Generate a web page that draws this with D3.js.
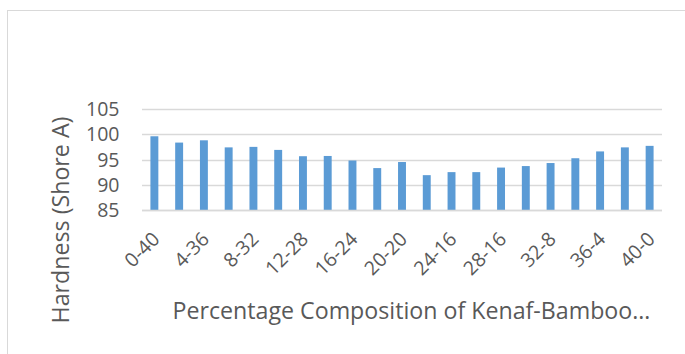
<!DOCTYPE html>
<html>
<head>
<meta charset="utf-8">
<script src="https://cdn.jsdelivr.net/npm/d3@7"></script>
<style>
  html, body { margin: 0; padding: 0; background: #fff; }
  svg { display: block; }
  text { font-family: "Open Sans", "Liberation Sans", sans-serif; fill: #595959; }
</style>
</head>
<body>
<svg id="chart" width="685" height="354"></svg>
<script>
// Kenaf-bamboo composition (%) and measured hardness
const categories = ["0-40", "2-38", "4-36", "6-34", "8-32", "10-30", "12-28", "14-26", "16-24", "18-22",
  "20-20", "22-18", "24-16", "26-14", "28-16", "30-10", "32-8", "34-6", "36-4", "38-2", "40-0"];
const hardness = [99.6, 98.35, 98.8, 97.4, 97.5, 96.9, 95.65, 95.7, 94.8, 93.3,
  94.5, 91.9, 92.5, 92.5, 93.4, 93.7, 94.3, 95.25, 96.6, 97.4, 97.7];
const yTicks = [85, 90, 95, 100, 105];
const yTitle = "Hardness (Shore A)";
const xTitle = "Percentage Composition of Kenaf-Bamboo…";

const svg = d3.select("#chart");
const gray = "#d9d9d9";

// outer chart frame
svg.append("rect")
  .attr("x", 7.5).attr("y", 10.5)
  .attr("width", 700).attr("height", 400)
  .attr("fill", "#fff").attr("stroke", gray).attr("stroke-width", 1);

const plot = { left: 142, right: 662, top: 109, bottom: 210 };

const x = d3.scaleBand()
  .domain(categories)
  .range([plot.left, plot.right])
  .paddingInner(0.68)
  .paddingOuter(0.34);

const y = d3.scaleLinear()
  .domain([85, 105])
  .range([plot.bottom, plot.top]);

// horizontal gridlines
svg.append("g")
  .selectAll("line")
  .data(yTicks)
  .join("line")
  .attr("x1", plot.left).attr("x2", plot.right)
  .attr("y1", d => Math.round(y(d)) + 0.5).attr("y2", d => Math.round(y(d)) + 0.5)
  .attr("stroke", gray).attr("stroke-width", 1.3);

// y tick labels
svg.append("g")
  .selectAll("text")
  .data(yTicks)
  .join("text")
  .attr("x", 119.5)
  .attr("y", d => y(d))
  .attr("dy", "0.36em")
  .attr("text-anchor", "end")
  .attr("font-size", 19.5)
  .text(d => d);

// bars
svg.append("g")
  .selectAll("rect")
  .data(categories)
  .join("rect")
  .attr("x", d => x(d))
  .attr("width", x.bandwidth())
  .attr("y", (d, i) => y(hardness[i]))
  .attr("height", (d, i) => y(85) - y(hardness[i]))
  .attr("fill", "#5b9bd5");

// redraw baseline over bar bottoms
svg.append("line")
  .attr("x1", plot.left).attr("x2", plot.right)
  .attr("y1", Math.round(y(85)) + 0.5).attr("y2", Math.round(y(85)) + 0.5)
  .attr("stroke", gray).attr("stroke-width", 1.3);

// category labels, every other one
svg.append("g")
  .selectAll("text")
  .data(categories.filter((d, i) => i % 2 === 0))
  .join("text")
  .attr("transform", d => `translate(${x(d) + x.bandwidth() / 2 + 1.5},235.5) rotate(-45)`)
  .attr("text-anchor", "end")
  .attr("dy", "0.36em")
  .attr("font-size", 19.5)
  .text(d => d);

// axis titles
svg.append("text")
  .attr("transform", "translate(69,220) rotate(-90)")
  .attr("text-anchor", "middle")
  .attr("font-size", 23.2)
  .text(yTitle);

svg.append("text")
  .attr("x", 172.5).attr("y", 319.3)
  .attr("font-size", 23.2)
  .text(xTitle);
</script>
</body>
</html>
